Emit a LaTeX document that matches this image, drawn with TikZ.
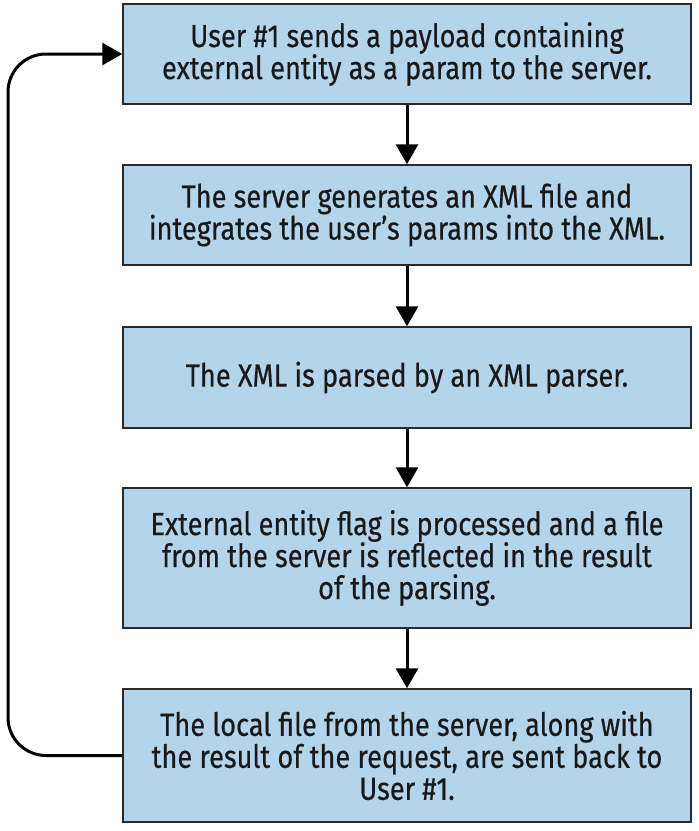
\documentclass[tikz,border=0pt]{standalone}
\usepackage{fontspec}
\setmainfont{Fira Sans}[FakeStretch=0.85,FakeBold=0.4]
\usetikzlibrary{arrows.meta}
\definecolor{boxblue}{HTML}{B3D4EA}
\definecolor{boxline}{HTML}{2A2A2A}
\begin{document}
\begin{tikzpicture}[x=1pt,y=-1pt,
  stepbox/.style={draw=boxline,line width=1.5pt,fill=boxblue,minimum width=568pt,
    align=center,inner sep=0pt,font=\fontsize{32}{32}\selectfont,text=black!90},
  flow/.style={line width=3pt,-{Triangle[width=22pt,length=20pt]}}]
\useasboundingbox (0,0) rectangle (699,831);
\node[stepbox,minimum height=100pt] (b1) at (407,54) {User \#1 sends a payload containing\\external entity as a param to the server.};
\node[stepbox,minimum height=100pt] (b2) at (407,215) {The server generates an XML file and\\integrates the user{\char"0027}s params into the XML.};
\node[stepbox,minimum height=101pt] (b3) at (407,377.5) {The XML is parsed by an XML parser.};
\node[stepbox,minimum height=140pt] (b4) at (407,558) {External entity flag is processed and a file\\from the server is reflected in the result\\of the parsing.};
\node[stepbox,minimum height=133pt] (b5) at (407,755.5) {The local file from the server, along with\\the result of the request, are sent back to\\User \#1.};
\draw[flow] (b1) -- (b2);
\draw[flow] (b2) -- (b3);
\draw[flow] (b3) -- (b4);
\draw[flow] (b4) -- (b5);
\coordinate (lx) at (8,0);
\draw[flow,rounded corners=38pt] (b5.west) -- (lx |- b5.west) -- (lx |- b1.west) -- (b1.west);
\end{tikzpicture}
\end{document}
